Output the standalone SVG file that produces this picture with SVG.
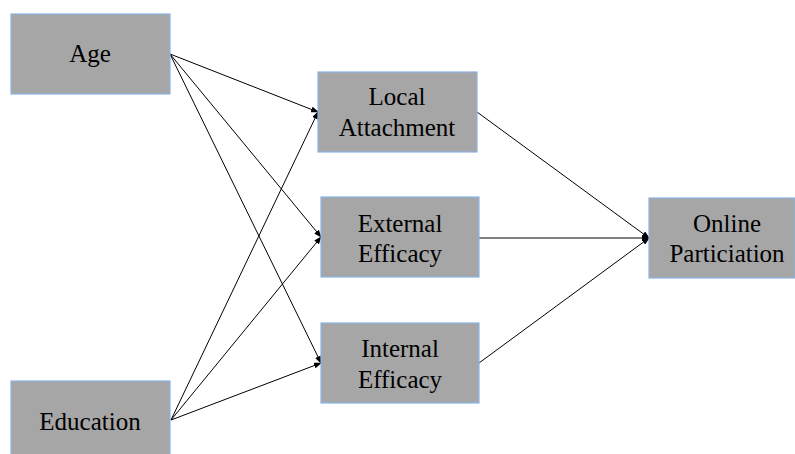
<svg xmlns="http://www.w3.org/2000/svg" width="795" height="454" viewBox="0 0 795 454">
<style>
.box{fill:#a6a6a6;stroke:#8ab4e4;stroke-width:1.2}
.c{stroke:#000;stroke-width:1;fill:none;marker-end:url(#ah)}
</style>
<defs>
<marker id="ah" markerWidth="8" markerHeight="6" refX="7" refY="3" orient="auto" markerUnits="userSpaceOnUse">
<path d="M0,0 L8,3 L0,6 z" fill="#000"/>
</marker>
</defs>
<g id="connectors">
<line class="c" x1="170" y1="54" x2="318" y2="112"/>
<line class="c" x1="170" y1="54" x2="321" y2="237"/>
<line class="c" x1="170" y1="54" x2="321" y2="363"/>
<line class="c" x1="171" y1="420" x2="318" y2="112"/>
<line class="c" x1="171" y1="420" x2="321" y2="237"/>
<line class="c" x1="171" y1="420" x2="321" y2="363"/>
<line class="c" x1="477" y1="112" x2="649" y2="238"/>
<line class="c" x1="479" y1="238" x2="649" y2="238"/>
<line class="c" x1="479" y1="363" x2="649" y2="238"/>
</g>
<g font-family="Liberation Serif, Times New Roman, serif" font-size="25" text-anchor="middle" fill="#000">
<g id="age"><rect class="box" x="11" y="14" width="159" height="80"/><text x="90" y="62">Age</text></g>
<g id="education"><rect class="box" x="11" y="381" width="159" height="80"/><text x="90" y="430">Education</text></g>
<g id="local"><rect class="box" x="318" y="72" width="159" height="80"/><text x="397" y="105">Local</text><text x="397" y="136">Attachment</text></g>
<g id="external"><rect class="box" x="321" y="197" width="158" height="80"/><text x="400" y="232">External</text><text x="400" y="262">Efficacy</text></g>
<g id="internal"><rect class="box" x="321" y="323" width="158" height="80"/><text x="400" y="357">Internal</text><text x="400" y="388">Efficacy</text></g>
<g id="online"><rect class="box" x="649" y="198" width="146" height="80"/><text x="727" y="232">Online</text><text x="727" y="262">Particiation</text></g>
</g>
</svg>
